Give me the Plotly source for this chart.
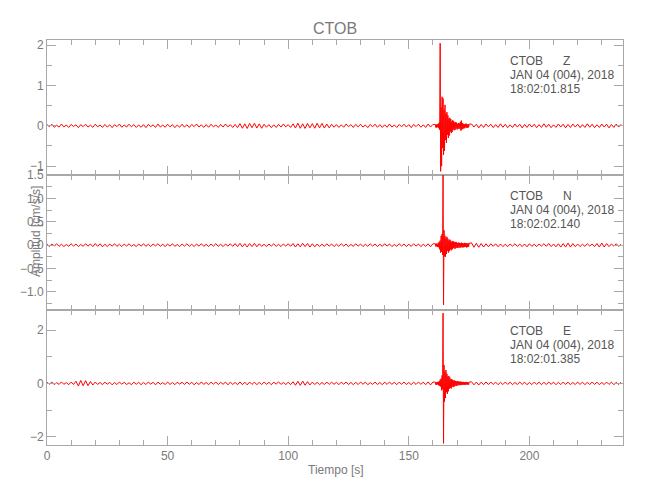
import plotly.graph_objects as go
from plotly.subplots import make_subplots

# ---------------- data ----------------
# sampling times [s]
T_PRE = list(range(0, 161))                             # 0..160 s
T_EVENT = [round(161 + 0.2 * i, 1) for i in range(71)]  # 161.0..175.0 s
T_CODA = list(range(176, 239))                          # 176..238 s

CHANNELS = ["Z", "N", "E"]
START_TIMES = ["18:02:01.815", "18:02:02.140", "18:02:01.385"]
DATE_LABEL = "JAN 04 (004), 2018"
STATION = "CTOB"

Z_PRE = [
    0.03, -0.02, 0.04, -0.035, 0.015, -0.03, 0.045, -0.025, 0.02, -0.04,
    0.035, -0.015, 0.025, -0.045, 0.03, -0.02, 0.04, -0.03, 0.015, -0.035,
    0.04, -0.025, 0.02, -0.04, 0.035, -0.03, 0.025, -0.045, 0.03, -0.02,
    0.045, -0.035, 0.02, -0.03, 0.04, -0.025, 0.03, -0.04, 0.02, -0.035,
    0.03, -0.045, 0.035, -0.02, 0.025, -0.04, 0.045, -0.03, 0.02, -0.035,
    0.04, -0.025, 0.03, -0.045, 0.02, -0.035, 0.04, -0.03, 0.025, -0.04,
    0.035, -0.02, 0.045, -0.03, 0.025, -0.04, 0.03, -0.035, 0.04, -0.025,
    0.02, -0.04, 0.035, -0.03, 0.045, -0.025, 0.03, -0.04, 0.035, -0.045,
    0.055, -0.06, 0.05, -0.065, 0.06, -0.045, 0.065, -0.055, 0.05, -0.06,
    0.04, -0.035, 0.03, -0.045, 0.025, -0.04, 0.035, -0.03, 0.045, -0.025,
    0.03, -0.04, 0.05, -0.055, 0.065, -0.06, 0.05, -0.065, 0.06, -0.05,
    0.055, -0.06, 0.065, -0.05, 0.06, -0.055, 0.045, -0.05, 0.04, -0.035,
    0.03, -0.04, 0.025, -0.035, 0.045, -0.02, 0.03, -0.04, 0.035, -0.025,
    0.04, -0.03, 0.02, -0.045, 0.035, -0.025, 0.04, -0.035, 0.03, -0.04,
    0.025, -0.035, 0.045, -0.03, 0.02, -0.04, 0.035, -0.025, 0.04, -0.03,
    0.03, -0.045, 0.035, -0.02, 0.04, -0.035, 0.025, -0.04, 0.045, -0.03,
    0.035]
Z_EVENT = [
    0.035, -0.04, 0.03, -0.045, 0.04, -0.03, 0.05, -0.06, 0.08, -0.10,
    2.05, -1.13, 0.45, -1.00, 0.72, -0.55, 0.68, -0.72, 0.40, -0.62,
    0.52, -0.35, 0.30, -0.42, 0.34, -0.22, 0.26, -0.30, 0.18, -0.24,
    0.20, -0.14, 0.17, -0.18, 0.11, -0.15, 0.14, -0.09, 0.12, -0.11,
    0.08, -0.10, 0.09, -0.06, 0.08, -0.09, 0.05, -0.08, 0.07, -0.05,
    0.06, -0.08, 0.10, -0.12, 0.13, -0.09, 0.07, -0.08, 0.05, -0.06,
    0.04, -0.06, 0.05, -0.035, 0.055, -0.045, 0.03, -0.05, 0.045, -0.035,
    0.04]
Z_CODA = [
    0.045, -0.03, 0.04, -0.05, 0.035, -0.04, 0.045, -0.025, 0.04, -0.045,
    0.03, -0.04, 0.05, -0.035, 0.04, -0.045, 0.025, -0.04, 0.045, -0.03,
    0.04, -0.05, 0.035, -0.04, 0.045, -0.03, 0.04, -0.045, 0.03, -0.04,
    0.05, -0.035, 0.04, -0.045, 0.025, -0.04, 0.045, -0.03, 0.04, -0.05,
    0.035, -0.04, 0.045, -0.03, 0.04, -0.045, 0.03, -0.04, 0.05, -0.035,
    0.04, -0.045, 0.025, -0.04, 0.045, -0.03, 0.04, -0.05, 0.035, -0.04,
    0.045, -0.03, 0.04]

N_PRE = [
    0.02, -0.03, 0.025, -0.015, 0.03, -0.025, 0.02, -0.03, 0.015, -0.025,
    0.03, -0.02, 0.025, -0.03, 0.015, -0.025, 0.03, -0.02, 0.025, -0.03,
    0.035, -0.025, 0.03, -0.035, 0.02, -0.03, 0.025, -0.02, 0.03, -0.025,
    0.02, -0.03, 0.025, -0.02, 0.03, -0.025, 0.015, -0.03, 0.025, -0.02,
    0.03, -0.025, 0.02, -0.03, 0.025, -0.015, 0.03, -0.025, 0.02, -0.03,
    0.025, -0.02, 0.03, -0.025, 0.015, -0.03, 0.025, -0.02, 0.03, -0.025,
    0.02, -0.03, 0.025, -0.02, 0.03, -0.025, 0.02, -0.03, 0.025, -0.02,
    0.03, -0.025, 0.02, -0.03, 0.025, -0.02, 0.03, -0.025, 0.035, -0.03,
    0.04, -0.035, 0.03, -0.04, 0.035, -0.03, 0.04, -0.035, 0.03, -0.025,
    0.02, -0.03, 0.025, -0.02, 0.03, -0.025, 0.02, -0.03, 0.025, -0.02,
    0.03, -0.025, 0.035, -0.04, 0.03, -0.035, 0.04, -0.03, 0.035, -0.04,
    0.03, -0.035, 0.025, -0.03, 0.02, -0.025, 0.03, -0.02, 0.025, -0.03,
    0.02, -0.025, 0.03, -0.02, 0.025, -0.03, 0.015, -0.025, 0.03, -0.02,
    0.025, -0.03, 0.02, -0.025, 0.03, -0.02, 0.025, -0.03, 0.02, -0.025,
    0.03, -0.02, 0.025, -0.03, 0.015, -0.025, 0.03, -0.02, 0.025, -0.03,
    0.02, -0.025, 0.03, -0.02, 0.025, -0.03, 0.02, -0.025, 0.03, -0.035,
    0.03]
N_EVENT = [
    0.03, -0.025, 0.035, -0.03, 0.025, -0.04, 0.05, -0.045, 0.07, -0.09,
    0.10, -0.16, 0.20, -0.14, 0.24, -0.21, 1.52, -1.28, 0.32, -0.24,
    0.20, -0.25, 0.15, -0.19, 0.18, -0.12, 0.14, -0.16, 0.10, -0.13,
    0.12, -0.09, 0.10, -0.11, 0.07, -0.09, 0.09, -0.06, 0.08, -0.07,
    0.06, -0.075, 0.07, -0.05, 0.065, -0.06, 0.045, -0.06, 0.055, -0.04,
    0.05, -0.055, 0.04, -0.05, 0.055, -0.04, 0.045, -0.05, 0.035, -0.045,
    0.05, -0.04, 0.045, -0.035, 0.04, -0.05, 0.035, -0.04, 0.045, -0.035,
    0.04]
N_CODA = [
    0.05, -0.045, 0.04, -0.045, 0.035, -0.04, 0.03, -0.035, 0.03, -0.025,
    0.03, -0.035, 0.025, -0.03, 0.02, -0.03, 0.025, -0.02, 0.03, -0.025,
    0.02, -0.03, 0.025, -0.035, 0.03, -0.025, 0.02, -0.03, 0.025, -0.02,
    0.03, -0.025, 0.035, -0.03, 0.025, -0.035, 0.03, -0.04, 0.035, -0.04,
    0.045, -0.04, 0.035, -0.03, 0.025, -0.03, 0.02, -0.025, 0.03, -0.02,
    0.025, -0.03, 0.035, -0.04, 0.045, -0.04, 0.035, -0.03, 0.025, -0.02,
    0.03, -0.025, 0.02]

E_PRE = [
    0.04, -0.03, 0.05, -0.045, 0.025, -0.04, 0.055, -0.035, 0.03, -0.05,
    0.045, -0.04, 0.08, -0.10, 0.11, -0.09, 0.10, -0.085, 0.07, -0.06,
    0.05, -0.04, 0.035, -0.05, 0.045, -0.03, 0.04, -0.055, 0.035, -0.045,
    0.05, -0.03, 0.04, -0.045, 0.025, -0.05, 0.045, -0.035, 0.04, -0.05,
    0.035, -0.045, 0.05, -0.03, 0.04, -0.055, 0.045, -0.035, 0.03, -0.045,
    0.05, -0.04, 0.035, -0.05, 0.045, -0.03, 0.04, -0.045, 0.05, -0.035,
    0.04, -0.05, 0.03, -0.045, 0.055, -0.04, 0.035, -0.05, 0.045, -0.03,
    0.05, -0.045, 0.04, -0.035, 0.05, -0.055, 0.045, -0.04, 0.035, -0.05,
    0.055, -0.05, 0.045, -0.055, 0.05, -0.04, 0.045, -0.05, 0.04, -0.045,
    0.05, -0.035, 0.04, -0.05, 0.045, -0.03, 0.055, -0.04, 0.035, -0.045,
    0.045, -0.05, 0.06, -0.07, 0.08, -0.075, 0.085, -0.07, 0.065, -0.06,
    0.05, -0.045, 0.04, -0.05, 0.035, -0.045, 0.05, -0.04, 0.045, -0.035,
    0.04, -0.05, 0.045, -0.03, 0.05, -0.045, 0.035, -0.05, 0.04, -0.045,
    0.05, -0.035, 0.045, -0.05, 0.03, -0.04, 0.05, -0.045, 0.035, -0.05,
    0.045, -0.04, 0.05, -0.035, 0.04, -0.05, 0.045, -0.03, 0.05, -0.045,
    0.035, -0.05, 0.045, -0.04, 0.05, -0.035, 0.045, -0.05, 0.055, -0.06,
    0.05]
E_EVENT = [
    0.045, -0.05, 0.04, -0.055, 0.05, -0.04, 0.06, -0.07, 0.08, -0.10,
    0.14, -0.12, 0.18, -0.26, 0.30, -0.22, 2.63, -2.25, 0.69, -0.69,
    0.42, -0.55, 0.50, -0.33, 0.36, -0.40, 0.26, -0.30, 0.28, -0.20,
    0.22, -0.17, 0.15, -0.19, 0.16, -0.12, 0.13, -0.14, 0.10, -0.12,
    0.11, -0.08, 0.09, -0.10, 0.07, -0.09, 0.08, -0.06, 0.075, -0.07,
    0.06, -0.07, 0.065, -0.05, 0.06, -0.065, 0.05, -0.06, 0.055, -0.045,
    0.05, -0.055, 0.045, -0.05, 0.055, -0.04, 0.05, -0.045, 0.04, -0.05,
    0.045]
E_CODA = [
    0.06, -0.055, 0.05, -0.06, 0.045, -0.05, 0.055, -0.045, 0.05, -0.04,
    0.045, -0.05, 0.04, -0.045, 0.05, -0.04, 0.045, -0.05, 0.035, -0.045,
    0.05, -0.04, 0.045, -0.05, 0.035, -0.045, 0.05, -0.04, 0.045, -0.05,
    0.04, -0.045, 0.05, -0.035, 0.045, -0.05, 0.04, -0.045, 0.05, -0.04,
    0.045, -0.05, 0.035, -0.045, 0.05, -0.04, 0.045, -0.05, 0.04, -0.045,
    0.05, -0.04, 0.045, -0.05, 0.035, -0.045, 0.05, -0.04, 0.045, -0.05,
    0.04, -0.045, 0.05]

Y_RANGES = [[-1.22, 2.13], [-1.39, 1.505], [-2.31, 2.75]]
Y_DTICK = [1, 0.5, 2]
Y_MINOR = [0.5, 0.25, 1]
X_RANGE = [0, 238.8]

# ---------------- figure ----------------
FONT = "Liberation Sans, Arial, sans-serif"
AX = "#a8a8a8"
LBL = "#7a7a7a"
TXT = "#555555"

T_ALL = T_PRE + T_EVENT + T_CODA
SERIES = [Z_PRE + Z_EVENT + Z_CODA,
          N_PRE + N_EVENT + N_CODA,
          E_PRE + E_EVENT + E_CODA]

fig = make_subplots(rows=3, cols=1, shared_xaxes=True, vertical_spacing=0)

for i, vals in enumerate(SERIES):
    fig.add_trace(go.Scatter(x=T_ALL, y=vals, mode="lines",
                             line=dict(color="#ff0000", width=1),
                             showlegend=False, hoverinfo="skip"),
                  row=i + 1, col=1)

common = dict(showline=True, linecolor=AX, linewidth=1, mirror="ticks",
              ticks="inside", tickcolor=AX, ticklen=9, tickwidth=1,
              showgrid=False, zeroline=False,
              tickfont=dict(family=FONT, size=12, color=LBL))

for i in range(3):
    fig.update_xaxes(range=X_RANGE, tick0=0, dtick=50,
                     minor=dict(dtick=10, ticklen=5, tickcolor=AX,
                                ticks="inside", showgrid=False),
                     **common, row=i + 1, col=1)
    fig.update_yaxes(range=Y_RANGES[i], tick0=0, dtick=Y_DTICK[i],
                     tickformat=".1f" if i == 1 else None,
                     minor=dict(dtick=Y_MINOR[i], ticklen=5, tickcolor=AX,
                                ticks="inside", showgrid=False),
                     **common, row=i + 1, col=1)

fig.update_layout(yaxis=dict(domain=[2 / 3, 1]),
                  yaxis2=dict(domain=[1 / 3, 2 / 3]),
                  yaxis3=dict(domain=[0, 1 / 3]))

# station annotation blocks (screen pixel centres converted to paper coords)
PLOT_TOP, PLOT_H = 40, 405
line_y = [[61, 74.7, 89.3], [196, 209.7, 224.3], [330.7, 345, 359.3]]
annos = []
for i, ch in enumerate(CHANNELS):
    texts = [STATION + "\u00a0" * 6 + ch, DATE_LABEL, START_TIMES[i]]
    for t, yp in zip(texts, line_y[i]):
        annos.append(dict(text=t, xref="paper", yref="paper", x=0.800,
                          y=(PLOT_TOP + PLOT_H - yp) / PLOT_H,
                          xanchor="left", yanchor="middle", showarrow=False,
                          font=dict(family=FONT, size=12, color=TXT)))

annos.append(dict(text="Amplitud [cm/s/s]", xref="paper", yref="paper",
                  x=-0.019, y=0.526, textangle=-90, xanchor="center",
                  yanchor="middle", showarrow=False,
                  font=dict(family=FONT, size=12, color=LBL)))
annos.append(dict(text="Tiempo [s]", xref="paper", yref="paper",
                  x=0.502, y=-0.062, xanchor="center", yanchor="middle",
                  showarrow=False, font=dict(family=FONT, size=12, color=LBL)))

fig.update_layout(
    width=650, height=500,
    margin=dict(l=39, r=35, t=32, b=63),
    paper_bgcolor="white", plot_bgcolor="white",
    title=dict(text=STATION, x=0.5, xref="paper", y=0.96,
               yanchor="middle", font=dict(family=FONT, size=16, color=LBL)),
    annotations=annos,
)

fig.write_html("out.html")
